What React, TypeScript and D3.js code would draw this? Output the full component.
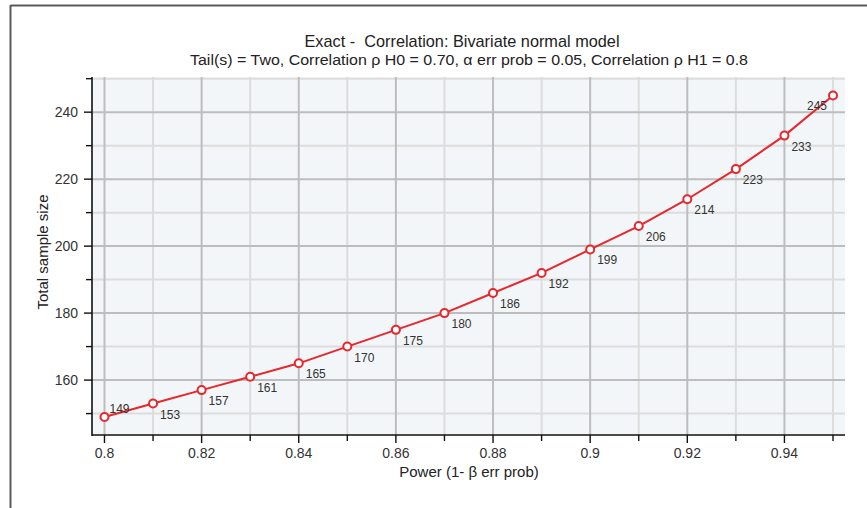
import React from "react";
import * as d3 from "d3";

const powers = [0.8, 0.81, 0.82, 0.83, 0.84, 0.85, 0.86, 0.87, 0.88, 0.89, 0.9, 0.91, 0.92, 0.93, 0.94, 0.95];
const sampleSizes = [149, 153, 157, 161, 165, 170, 175, 180, 186, 192, 199, 206, 214, 223, 233, 245];
const xMajorTicks = [0.8, 0.82, 0.84, 0.86, 0.88, 0.9, 0.92, 0.94];
const xMinorTicks = [0.81, 0.83, 0.85, 0.87, 0.89, 0.91, 0.93, 0.95];
const yMajorTicks = [160, 180, 200, 220, 240];
const yMinorTicks = [150, 170, 190, 210, 230, 250];
const titleText = "Exact -  Correlation: Bivariate normal model";
const subtitleText = "Tail(s) = Two, Correlation \u03c1 H0 = 0.70, \u03b1 err prob = 0.05, Correlation \u03c1 H1 = 0.8";
const xTitle = "Power (1- \u03b2 err prob)";
const yTitle = "Total sample size";

const W = 867;
const H = 508;
const plot = { left: 92, right: 845, top: 77, bottom: 435 };

export default function App() {
  const x = d3.scaleLinear().domain([0.79743, 0.95247]).range([plot.left, plot.right]);
  const y = d3.scaleLinear().domain([143.6, 250.5]).range([plot.bottom, plot.top]);
  const line = d3
    .line<number>()
    .x((_, i) => x(powers[i]))
    .y((d) => y(d));
  const font = "'Liberation Sans', Arial, sans-serif";
  const fmt = (v: number) => String(+v.toFixed(2));

  return (
    <svg
      width={W}
      height={H}
      style={{ position: "absolute", left: 0, top: 0, background: "#fff" }}
      fontFamily={font}
    >
      {/* window frame */}
      <line x1={10.5} y1={5.5} x2={W} y2={5.5} stroke="#5a5a5a" strokeWidth={2} />
      <line x1={10.5} y1={5} x2={10.5} y2={H} stroke="#5a5a5a" strokeWidth={2} />

      {/* titles */}
      <text x={462} y={47} textAnchor="middle" fontSize={17} fill="#222" textLength={315} lengthAdjust="spacingAndGlyphs" style={{ whiteSpace: "pre" }}>
        {titleText}
      </text>
      <text x={469} y={65} textAnchor="middle" fontSize={15.5} fill="#222" textLength={558} lengthAdjust="spacingAndGlyphs" style={{ whiteSpace: "pre" }}>
        {subtitleText}
      </text>

      {/* plot background */}
      <rect x={plot.left} y={plot.top} width={plot.right - plot.left} height={plot.bottom - plot.top} fill="#f3f6f8" />

      {/* minor grid */}
      {xMinorTicks.map((t) => (
        <line key={"xm" + t} x1={x(t)} x2={x(t)} y1={plot.top} y2={plot.bottom} stroke="#dcdcdc" strokeWidth={2} />
      ))}
      {yMinorTicks.map((t) => (
        <line key={"ym" + t} x1={plot.left} x2={plot.right} y1={y(t)} y2={y(t)} stroke="#dcdcdc" strokeWidth={2} />
      ))}
      {/* major grid */}
      {xMajorTicks.map((t) => (
        <line key={"xM" + t} x1={x(t)} x2={x(t)} y1={plot.top} y2={plot.bottom} stroke="#bdbdbd" strokeWidth={2} />
      ))}
      {yMajorTicks.map((t) => (
        <line key={"yM" + t} x1={plot.left} x2={plot.right} y1={y(t)} y2={y(t)} stroke="#bdbdbd" strokeWidth={2} />
      ))}

      {/* axes */}
      <line x1={plot.left} x2={plot.left} y1={plot.top} y2={plot.bottom + 1} stroke="#111" strokeWidth={1.6} />
      <line x1={plot.left} x2={plot.right} y1={plot.bottom} y2={plot.bottom} stroke="#111" strokeWidth={1.6} />
      {yMajorTicks.map((t) => (
        <g key={"yt" + t}>
          <line x1={plot.left - 8} x2={plot.left} y1={y(t)} y2={y(t)} stroke="#111" strokeWidth={1.4} />
          <text x={78} y={y(t)} dy="0.35em" textAnchor="end" fontSize={14} fill="#333">
            {t}
          </text>
        </g>
      ))}
      {yMinorTicks.map((t) => (
        <line key={"ytm" + t} x1={plot.left - 6} x2={plot.left} y1={y(t)} y2={y(t)} stroke="#111" strokeWidth={1.4} />
      ))}
      {xMajorTicks.map((t) => (
        <g key={"xt" + t}>
          <line x1={x(t)} x2={x(t)} y1={plot.bottom} y2={plot.bottom + 8} stroke="#111" strokeWidth={1.4} />
          <text x={x(t)} y={458} textAnchor="middle" fontSize={14} fill="#333">
            {fmt(t)}
          </text>
        </g>
      ))}
      {xMinorTicks.map((t) => (
        <line key={"xtm" + t} x1={x(t)} x2={x(t)} y1={plot.bottom} y2={plot.bottom + 6} stroke="#111" strokeWidth={1.4} />
      ))}

      {/* axis titles */}
      <text x={469} y={477} textAnchor="middle" fontSize={15} fill="#222">
        {xTitle}
      </text>
      <text transform={`translate(48,252) rotate(-90)`} textAnchor="middle" fontSize={15} fill="#222">
        {yTitle}
      </text>

      {/* series */}
      <path d={line(sampleSizes) || ""} fill="none" stroke="#e8262b" strokeWidth={2} />
      {sampleSizes.map((v, i) => (
        <circle key={"p" + i} cx={x(powers[i])} cy={y(v)} r={4} fill="#fff" stroke="#e8262b" strokeWidth={2} />
      ))}
      {sampleSizes.map((v, i) => {
        const first = i === 0;
        const last = i === sampleSizes.length - 1;
        const dx = first ? 5 : last ? -26 : 7;
        const dy = first ? -4 : 15;
        return (
          <text key={"l" + i} x={x(powers[i]) + dx} y={y(v) + dy} fontSize={12} fill="#333">
            {v}
          </text>
        );
      })}
    </svg>
  );
}
